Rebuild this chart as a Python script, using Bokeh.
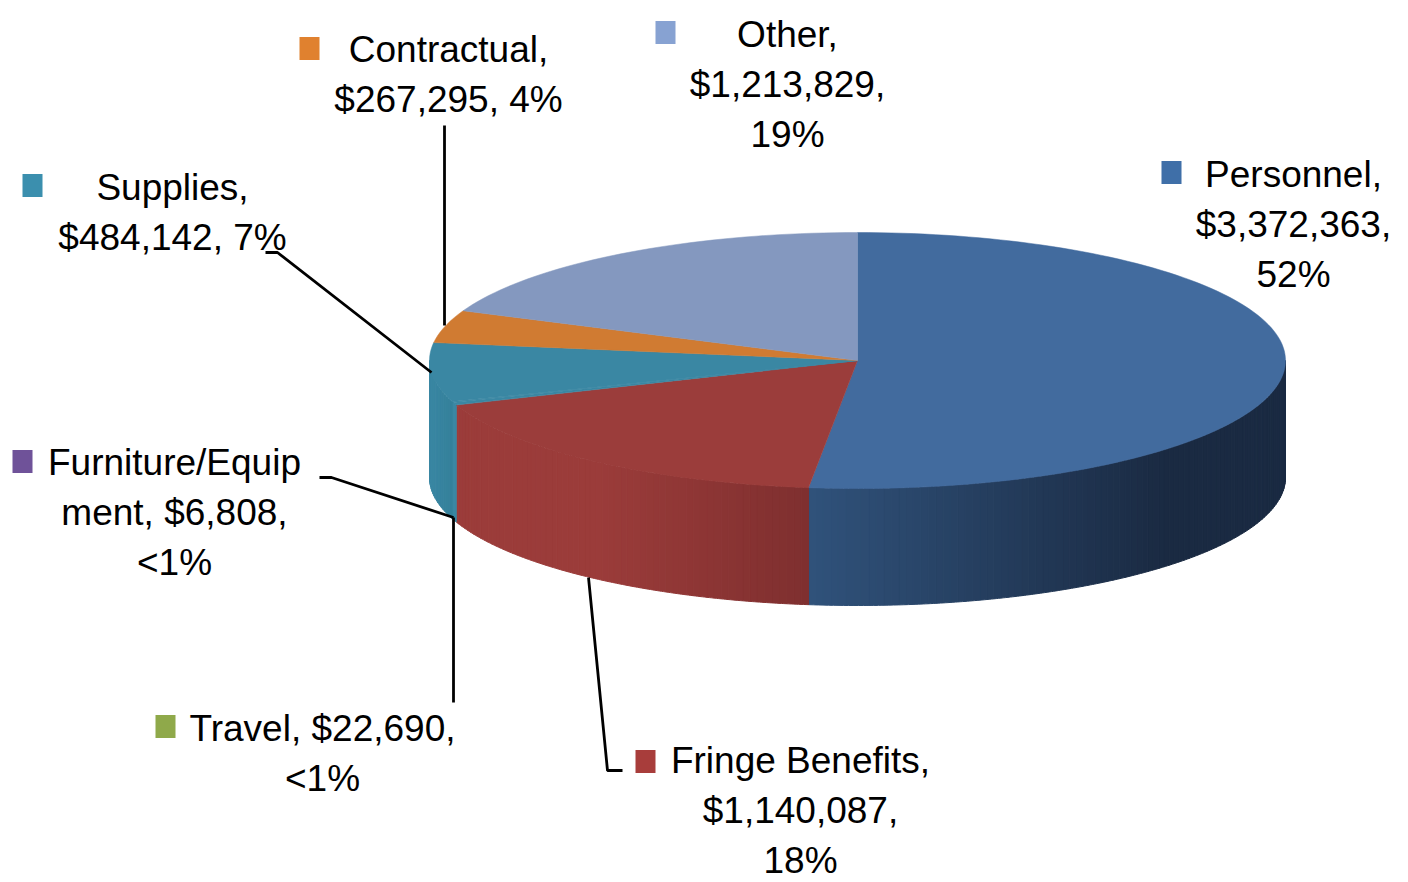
import math
from bokeh.plotting import figure
from bokeh.models import Range1d
from bokeh.core.properties import value
from bokeh.embed import file_html
from bokeh.resources import INLINE

# ---- data (clockwise from 12 o'clock)
categories = ["Personnel", "Fringe Benefits", "Travel", "Furniture/Equipment", "Supplies", "Contractual", "Other"]
amounts = [3372363, 1140087, 22690, 6808, 484142, 267295, 1213829]
percent_labels = ["52%", "18%", "<1%", "<1%", "7%", "4%", "19%"]
top_colors = ["#426b9e", "#9b3d3b", "#3a87a3", "#3a87a3", "#3a87a3", "#d07b32", "#8498bf"]
side_left_colors = ["#30527b", "#9b3c3a", "#3a87a3", "#3a87a3", "#3a87a3", "#d07b32", "#8498bf"]
side_right_colors = ["#1a2a42", "#7f2f2f", "#3a87a3", "#3a87a3", "#34809a", "#d07b32", "#8498bf"]
key_colors = ["#3f6fa8", "#a83d3b", "#8fa94a", "#6f5299", "#3b8fae", "#e0812f", "#87a2d2"]

label_lines = [
    ["Personnel,", "$3,372,363,", "52%"],
    ["Fringe Benefits,", "$1,140,087,", "18%"],
    ["Travel, $22,690,", "<1%"],
    ["Furniture/Equip", "ment, $6,808,", "<1%"],
    ["Supplies,", "$484,142, 7%"],
    ["Contractual,", "$267,295, 4%"],
    ["Other,", "$1,213,829,", "19%"],
]

# ---- layout (figure coordinates equal page pixels)
W, H = 1408, 882
CX, CY, RX, RY, DEPTH = 857, 360, 428, 128, 117
FONT = "Liberation Sans"
FONT_SIZE = "37px"
LINE_STEP = 50
shade_from = [0.0, 0.4, 0.0, 0.0, 0.0, 0.0, 0.0]
shade_to = [0.75, 1.0, 1.0, 1.0, 1.0, 1.0, 1.0]
label_pos = [(1293, 174), (800, 760), (322, 728), (174, 462), (172, 187), (448, 49), (787, 34)]
key_pos = [(1171, 172), (645, 761), (165, 726), (22, 461), (32, 185), (309, 48), (665, 32)]
leaders = [
    ([444, 444], [125, 325]),
    ([265, 277, 431], [252, 252, 372]),
    ([319, 331, 453], [477, 477, 517]),
    ([453, 453], [702, 517]),
    ([588, 607, 622], [577, 770, 770]),
]


def hex2rgb(c):
    return tuple(int(c[i:i + 2], 16) for i in (1, 3, 5))


def mix(a, b, t):
    ra, rb = hex2rgb(a), hex2rgb(b)
    return "#%02x%02x%02x" % tuple(round(ra[i] + (rb[i] - ra[i]) * t) for i in range(3))


def rim(deg):
    r = math.radians(deg)
    return CX + RX * math.sin(r), CY - RY * math.cos(r)


total = sum(amounts)
edges = [0.0]
for a in amounts:
    edges.append(edges[-1] + a / total * 360)

p = figure(width=W, height=H, output_backend="svg", toolbar_location=None,
           x_range=Range1d(0, W), y_range=Range1d(H, 0), min_border=0,
           outline_line_color=None, background_fill_color="white")
p.axis.visible = False
p.grid.visible = False

# side wall: the visible front half (90..270 degrees) in narrow shaded strips
for i in range(len(amounts)):
    a0, a1 = max(edges[i], 90.0), min(edges[i + 1], 270.0)
    if a1 <= a0:
        continue
    n = max(2, int((a1 - a0) / 1.0))
    xl, _ = rim(a0)
    xr, _ = rim(a1)
    lo, hi = min(xl, xr), max(xl, xr)
    for k in range(n):
        s0 = a0 + (a1 - a0) * k / n
        s1 = a0 + (a1 - a0) * (k + 1) / n
        steps = [s0 + (s1 - s0) * j / 3 for j in range(4)]
        pts = [rim(s) for s in steps]
        xs = [q[0] for q in pts] + [q[0] for q in reversed(pts)]
        ys = [q[1] for q in pts] + [q[1] + DEPTH for q in reversed(pts)]
        xm = (pts[0][0] + pts[-1][0]) / 2
        f = (xm - lo) / (hi - lo) if hi > lo else 0
        t = max(0.0, min(1.0, (f - shade_from[i]) / (shade_to[i] - shade_from[i])))
        col = mix(side_left_colors[i], side_right_colors[i], t)
        p.patch(xs, ys, fill_color=col, line_color=col, line_width=1)

# top surface
for i in range(len(amounts)):
    a0, a1 = edges[i], edges[i + 1]
    n = max(2, int((a1 - a0) / 1.5))
    pts = [rim(a0 + (a1 - a0) * k / n) for k in range(n + 1)]
    xs = [CX] + [q[0] for q in pts]
    ys = [CY] + [q[1] for q in pts]
    p.patch(xs, ys, fill_color=top_colors[i], line_color=top_colors[i], line_width=0.5)

# leader lines
for xs, ys in leaders:
    p.line(xs, ys, line_color="#000000", line_width=2.8)

# legend keys inside the labels
p.rect([q[0] for q in key_pos], [q[1] for q in key_pos], width=20, height=23,
       fill_color=key_colors, line_color=None)

# labels
tx, ty, tt = [], [], []
for lines, (x, y) in zip(label_lines, label_pos):
    for j, line in enumerate(lines):
        tx.append(x)
        ty.append(y + j * LINE_STEP)
        tt.append(line)
p.text(tx, ty, text=tt, text_font=value(FONT), text_font_size=FONT_SIZE, text_color="#000000",
       text_align="center", text_baseline="alphabetic")

open("out.html", "w").write(file_html(p, INLINE))
